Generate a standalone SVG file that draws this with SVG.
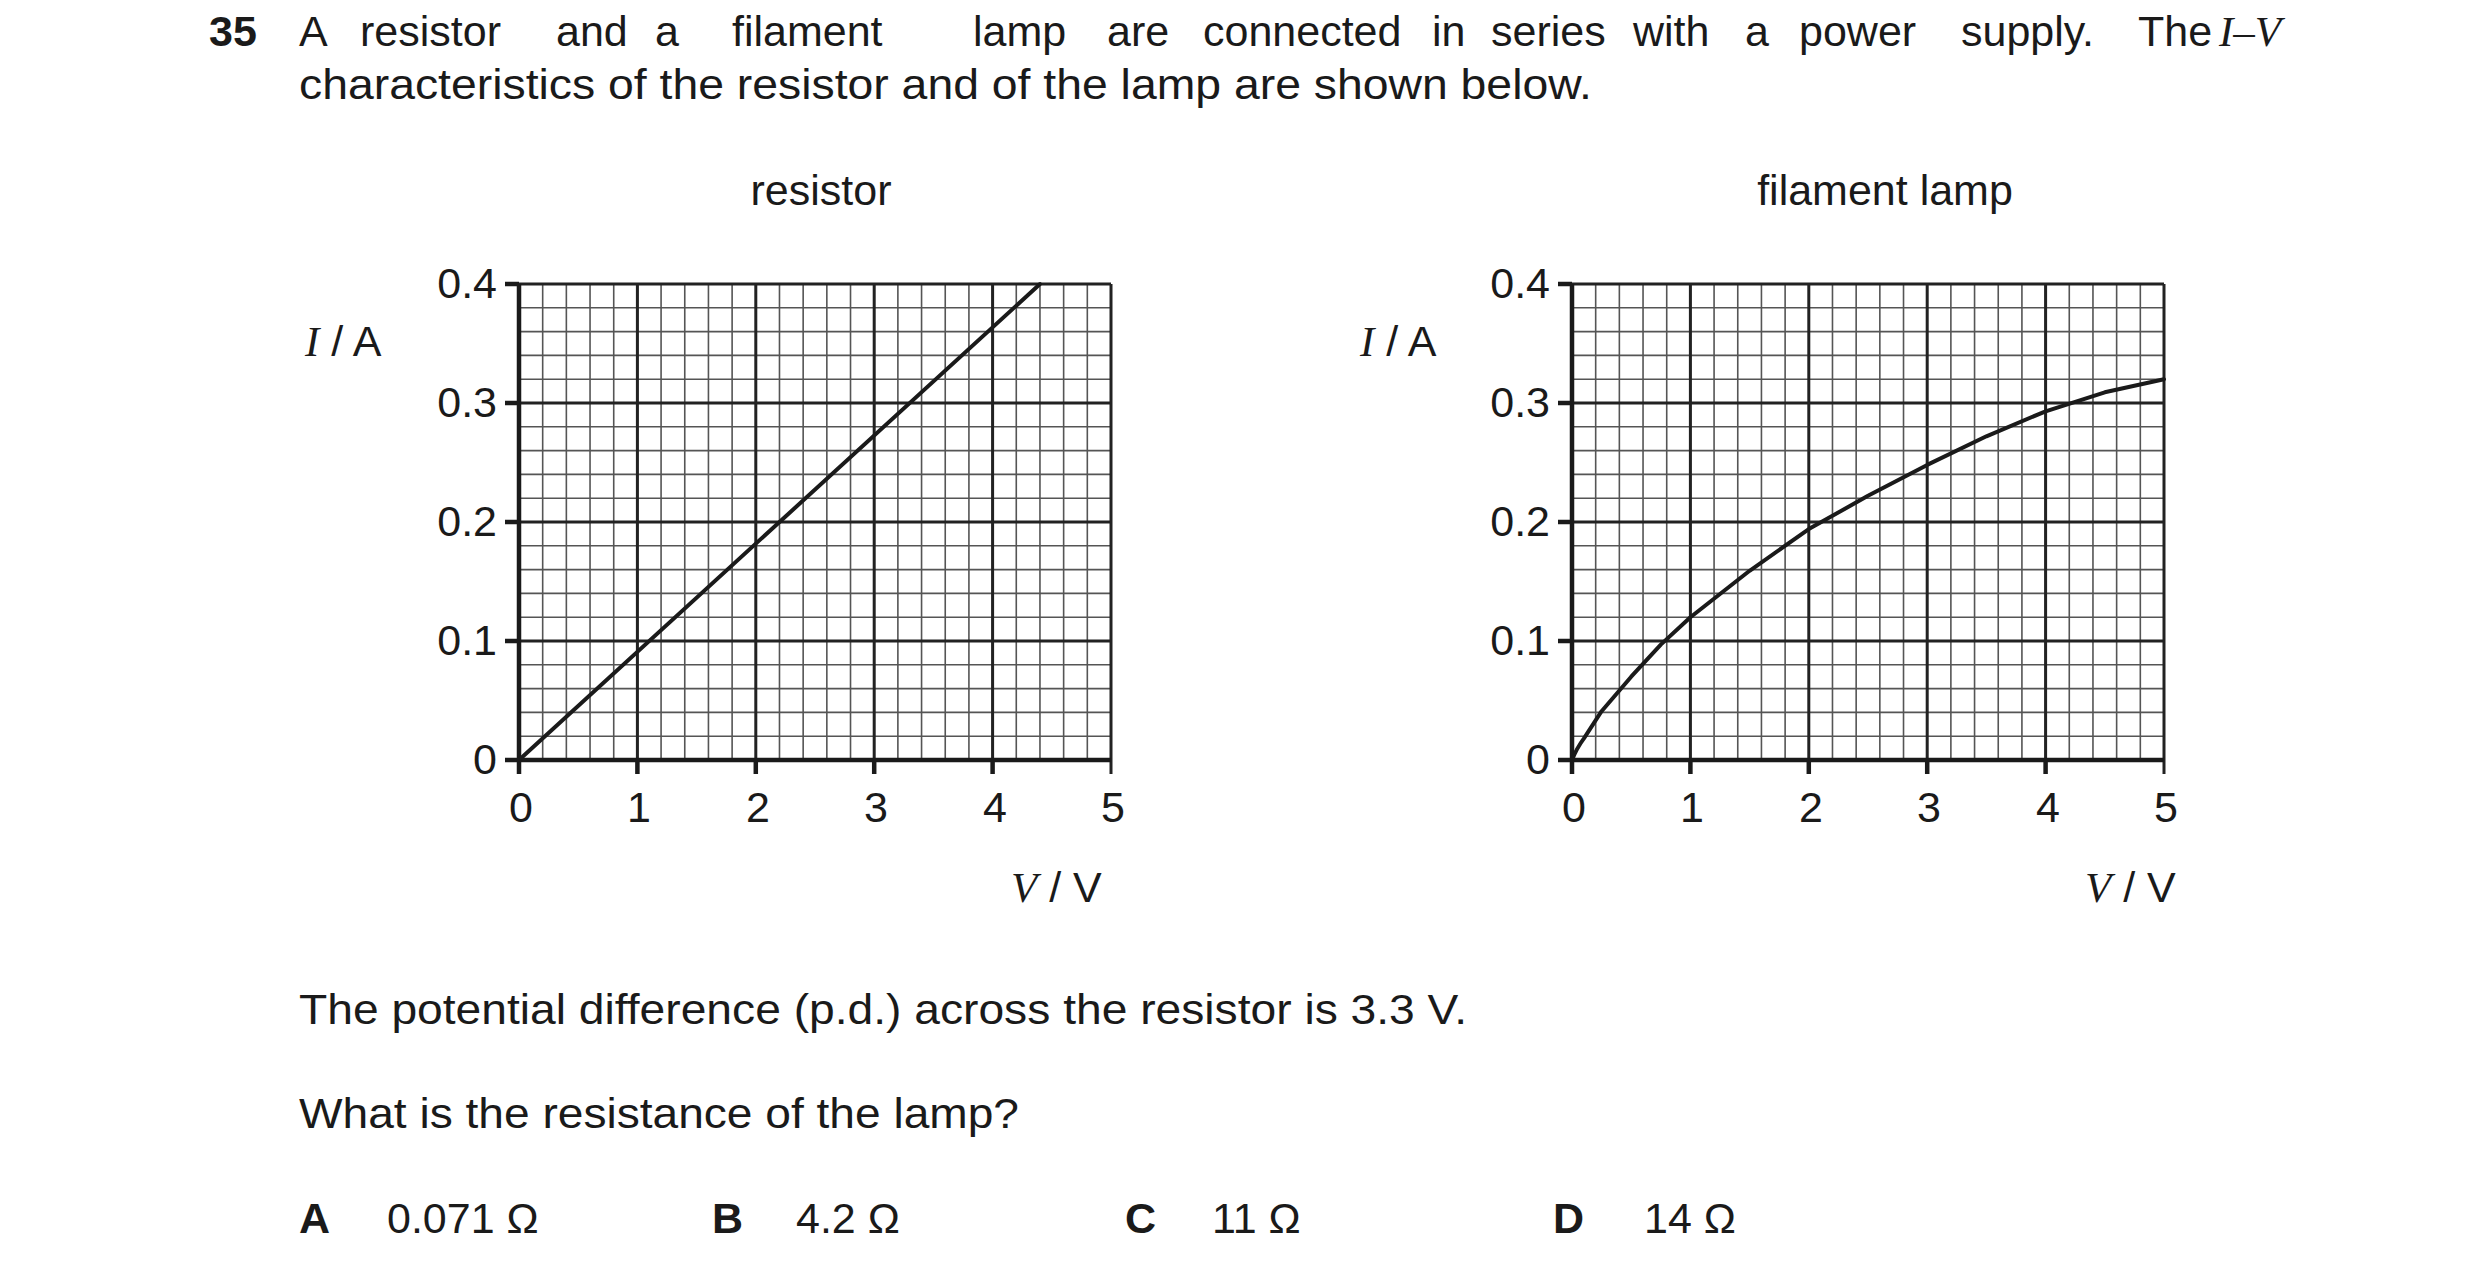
<svg xmlns="http://www.w3.org/2000/svg" xmlns:xlink="http://www.w3.org/1999/xlink" width="2480" height="1262" viewBox="0 0 2480 1262">
<style>
text{font-family:"Liberation Sans",Arial,sans-serif;font-size:43px;fill:#1a1a1a}
.b{font-weight:bold}
.it{font-family:"Liberation Serif","Times New Roman",serif;font-style:italic}
.tk{font-size:42px}
.minor{stroke:#555;stroke-width:1.6;fill:none}
.major{stroke:#222;stroke-width:3;fill:none}
.axis{stroke:#1a1a1a;stroke-width:4.5;fill:none}
.curve{stroke:#1a1a1a;stroke-width:4;fill:none;stroke-linejoin:round;stroke-linecap:round}
</style>
<defs>
<g id="grid">
<path class="minor" d="M542.68 284v476m23.68-476v476m23.68-476v476m23.68-476v476m23.68-476v476m23.68-476v476m23.68-476v476m23.68-476v476m23.68-476v476m23.68-476v476m23.68-476v476m23.68-476v476m23.68-476v476m23.68-476v476m23.68-476v476m23.68-476v476m23.68-476v476m23.68-476v476m23.68-476v476m23.68-476v476m23.68-476v476m23.68-476v476m23.68-476v476m23.68-476v476"/>
<path class="minor" d="M519 736.2h592m-592-23.8h592m-592-23.8h592m-592-23.8h592m-592-23.8h592m-592-23.8h592m-592-23.8h592m-592-23.8h592m-592-23.8h592m-592-23.8h592m-592-23.8h592m-592-23.8h592m-592-23.8h592m-592-23.8h592m-592-23.8h592m-592-23.8h592m-592-23.8h592m-592-23.8h592m-592-23.8h592"/>
<path class="major" d="M637.4 284v476M755.8 284v476M874.2 284v476M992.6 284v476M1111 284v490M519 641h592M519 522h592M519 403h592M519 284h592"/>
<path class="axis" d="M519 284v476h592M505 760h14M505 641h14M505 522h14M505 403h14M505 284h14M519 760v14M637.4 760v14M755.8 760v14M874.2 760v14M992.6 760v14"/>
</g>
</defs>

<g id="question">
<text class="b" x="209" y="46">35</text>
<text x="299" y="46">A</text>
<text x="360" y="46">resistor</text>
<text x="556" y="46">and</text>
<text x="655" y="46">a</text>
<text x="732" y="46">filament</text>
<text x="973" y="46">lamp</text>
<text x="1107" y="46">are</text>
<text x="1203" y="46">connected</text>
<text x="1432" y="46">in</text>
<text x="1491" y="46">series</text>
<text x="1633" y="46">with</text>
<text x="1745" y="46">a</text>
<text x="1799" y="46">power</text>
<text x="1961" y="46">supply.</text>
<text x="2138" y="46">The</text>
<text class="it" x="2219" y="46">I–V</text>
<text x="299" y="99" textLength="1293" lengthAdjust="spacingAndGlyphs">characteristics of the resistor and of the lamp are shown below.</text>
</g>

<g id="resistor-graph">
<text x="821" y="205" text-anchor="middle">resistor</text>
<use xlink:href="#grid"/>
<polyline class="curve" points="519,760 1040,284"/>
<g class="tk" text-anchor="end">
<text x="497" y="298">0.4</text>
<text x="497" y="417">0.3</text>
<text x="497" y="536">0.2</text>
<text x="497" y="655">0.1</text>
<text x="497" y="774">0</text>
</g>
<g class="tk" text-anchor="middle">
<text x="521" y="822">0</text>
<text x="639" y="822">1</text>
<text x="758" y="822">2</text>
<text x="876" y="822">3</text>
<text x="995" y="822">4</text>
<text x="1113" y="822">5</text>
</g>
<text x="305" y="356"><tspan class="it">I</tspan> / A</text>
<text x="1011" y="902"><tspan class="it">V</tspan> / V</text>
</g>

<g id="lamp-graph">
<text x="1885" y="205" text-anchor="middle">filament lamp</text>
<use xlink:href="#grid" transform="translate(1053,0)"/>
<path class="curve" d="M1572 760 C1576 750 1579 745 1583.8 738.6 L1601.6 711.2 L1631.2 676.7 L1660.8 644.6 L1690.4 617.2 L1749.6 570.8 L1808.8 529.1 L1868 495.8 L1927.2 464.9 L1986.4 436.3 L2045.6 411.3 L2104.8 392.3 L2164 379.2"/>
<g class="tk" text-anchor="end">
<text x="1550" y="298">0.4</text>
<text x="1550" y="417">0.3</text>
<text x="1550" y="536">0.2</text>
<text x="1550" y="655">0.1</text>
<text x="1550" y="774">0</text>
</g>
<g class="tk" text-anchor="middle">
<text x="1574" y="822">0</text>
<text x="1692" y="822">1</text>
<text x="1811" y="822">2</text>
<text x="1929" y="822">3</text>
<text x="2048" y="822">4</text>
<text x="2166" y="822">5</text>
</g>
<text x="1360" y="356"><tspan class="it">I</tspan> / A</text>
<text x="2085" y="902"><tspan class="it">V</tspan> / V</text>
</g>

<g id="text-below">
<text x="299" y="1024" textLength="1168" lengthAdjust="spacingAndGlyphs">The potential difference (p.d.) across the resistor is 3.3 V.</text>
<text x="299" y="1128" textLength="720" lengthAdjust="spacingAndGlyphs">What is the resistance of the lamp?</text>
<text class="b" x="299" y="1233">A</text>
<text x="387" y="1233">0.071 Ω</text>
<text class="b" x="712" y="1233">B</text>
<text x="796" y="1233">4.2 Ω</text>
<text class="b" x="1125" y="1233">C</text>
<text x="1212" y="1233">11 Ω</text>
<text class="b" x="1553" y="1233">D</text>
<text x="1644" y="1233">14 Ω</text>
</g>
</svg>
